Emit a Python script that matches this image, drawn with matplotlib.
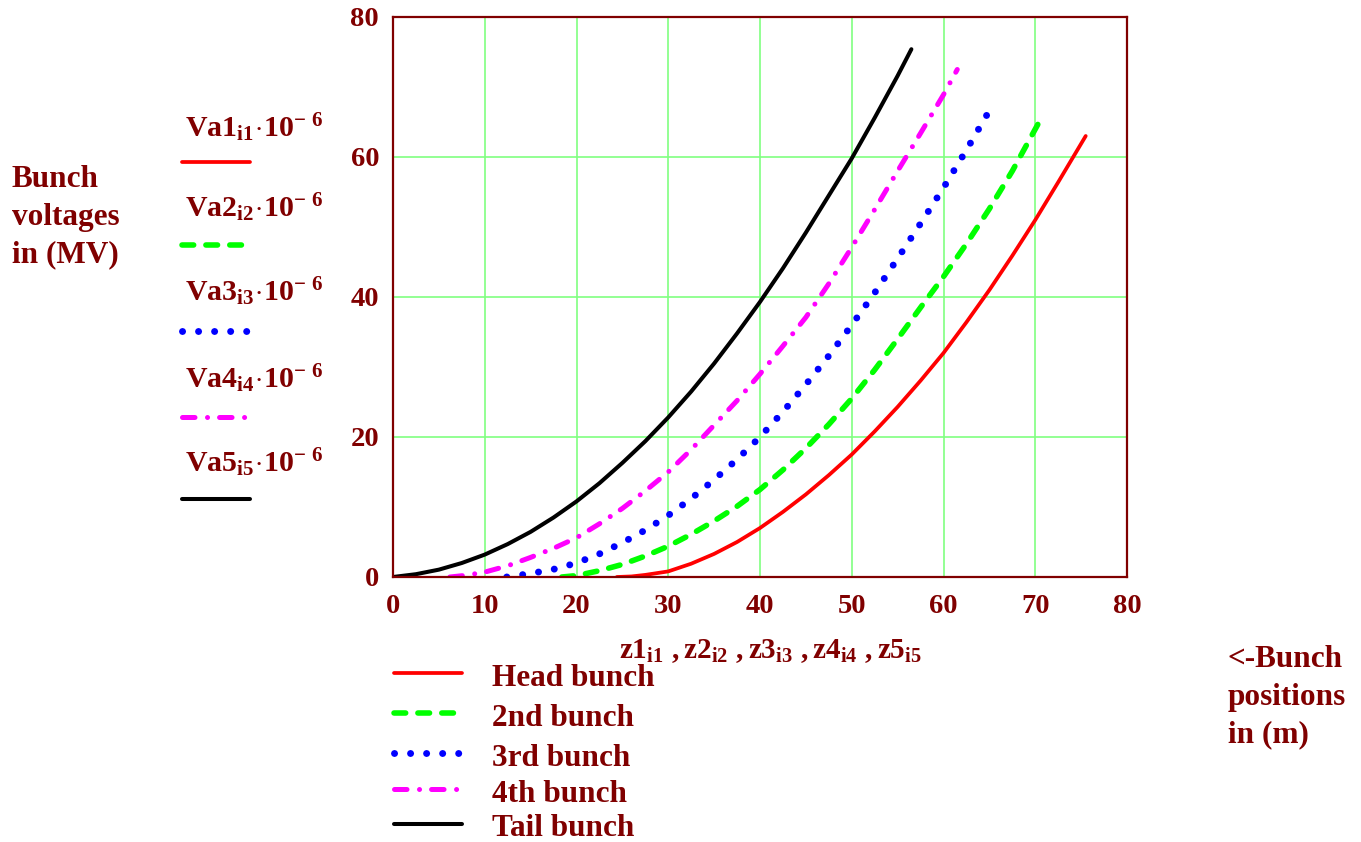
import matplotlib
matplotlib.use("Agg")
import matplotlib.pyplot as plt
from matplotlib.lines import Line2D

# bunch positions (m) and voltages (MV)
z_head = [24.4, 26, 27.5, 30, 32.5, 35, 37.5, 40, 42.5, 45, 47.5, 50, 52.5, 55,
          57.5, 60, 62.5, 65, 67.5, 70, 72.5, 75.5]
v_head = [0, 0.08, 0.3, 0.8, 1.9, 3.3, 5.0, 7.0, 9.3, 11.8, 14.55, 17.5, 20.8, 24.3,
          28.05, 32.0, 36.4, 41.0, 45.9, 51.0, 56.4, 63.0]

z_2nd = [18.4, 20, 22.5, 25, 27.5, 30, 32.5, 35, 37.5, 40, 42.5, 45, 47.5, 50,
         52.5, 55, 57.5, 60, 62.5, 65, 67.5, 70.3]
v_2nd = [0, 0.2, 0.9, 1.8, 3.0, 4.4, 6.1, 8.0, 10.1, 12.5, 15.3, 18.4, 21.8, 25.5,
         29.6, 34.0, 38.5, 42.9, 47.6, 52.6, 58.0, 64.7]

z_3rd = [12.4, 15, 17.5, 20, 22.5, 25, 27.5, 30, 32.5, 35, 37.5, 40, 42.5, 45,
         47.5, 50, 52.5, 55, 57.5, 60, 62.5, 65.3]
v_3rd = [0, 0.5, 1.1, 2.0, 3.3, 4.9, 6.7, 8.8, 11.2, 13.9, 16.8, 20.0, 23.6, 27.5,
         31.6, 36.0, 40.6, 45.5, 50.5, 55.6, 61.0, 67.3]

z_4th = [6.2, 8, 10, 12.5, 15, 17.5, 20, 22.5, 25, 27.5, 30, 32.5, 35, 37.5, 40,
         42.5, 45, 47.5, 50, 52.5, 55, 57.5, 60, 61.5]
v_4th = [0, 0.25, 0.7, 1.6, 2.8, 4.1, 5.6, 7.6, 9.8, 12.3, 15.0, 18.2, 21.7, 25.2, 29.0,
         33.0, 37.1, 41.9, 47.1, 52.5, 58.0, 63.4, 68.9, 72.5]

z_tail = [0, 2.5, 5, 7.5, 10, 12.5, 15, 17.5, 20, 22.5, 25, 27.5, 30, 32.5, 35,
          37.5, 40, 42.5, 45, 47.5, 50, 52.5, 55, 56.5]
v_tail = [0, 0.4, 1.05, 2.0, 3.2, 4.7, 6.45, 8.5, 10.8, 13.4, 16.3, 19.4, 22.8, 26.5,
          30.5, 34.8, 39.3, 44.1, 49.2, 54.5, 59.8, 65.6, 71.6, 75.4]

x_ticks = [0, 10, 20, 30, 40, 50, 60, 70, 80]
y_ticks = [0, 20, 40, 60, 80]
names = ["Head bunch", "2nd bunch", "3rd bunch", "4th bunch", "Tail bunch"]
va_labels = [r"$Va1_{i1}\!\cdot\!10^{-\ 6}$", r"$Va2_{i2}\!\cdot\!10^{-\ 6}$",
             r"$Va3_{i3}\!\cdot\!10^{-\ 6}$", r"$Va4_{i4}\!\cdot\!10^{-\ 6}$",
             r"$Va5_{i5}\!\cdot\!10^{-\ 6}$"]

DARK = "#800000"
plt.rcParams["font.family"] = ["Liberation Serif", "DejaVu Serif"]
plt.rcParams["font.weight"] = "bold"
plt.rcParams["mathtext.fontset"] = "custom"
plt.rcParams["mathtext.rm"] = "Liberation Serif:bold"
plt.rcParams["mathtext.it"] = "Liberation Serif:bold"
plt.rcParams["mathtext.bf"] = "Liberation Serif:bold"

styles = [
    dict(color="#FF0000", lw=2.7, linestyle="-"),
    dict(color="#00FF00", lw=4.0, linestyle=(0, (2.1, 2.2)), dash_capstyle="round"),
    dict(color="#0000FF", lw=5.0, linestyle=(0, (0.01, 2.3)), dash_capstyle="round"),
    dict(color="#FF00FF", lw=3.6, linestyle=(0, (2.5, 2.5, 0.01, 2.4)), dash_capstyle="round"),
    dict(color="#000000", lw=2.9, linestyle="-"),
]

fig = plt.figure(figsize=(13.61, 8.42), dpi=100)

# overlay in pixel coords for the free-standing labels and legend samples
ov = fig.add_axes([0, 0, 1, 1])
ov.set_xlim(0, 1361)
ov.set_ylim(842, 0)
ov.axis("off")

ax = fig.add_axes([393 / 1361, 1 - 577 / 842, 734 / 1361, 560 / 842])
series = [(z_head, v_head), (z_2nd, v_2nd), (z_3rd, v_3rd), (z_4th, v_4th), (z_tail, v_tail)]
for (z, v), st in zip(series, styles):
    ax.plot(z, v, solid_capstyle="round", solid_joinstyle="round", **st)

ax.set_xlim(0, 80)
ax.set_ylim(0, 80)
ax.set_xticks(x_ticks)
ax.set_yticks(y_ticks)
ax.grid(True, color="#80FF80", lw=1.2)
ax.set_axisbelow(True)
for sp in ax.spines.values():
    sp.set_color(DARK)
    sp.set_linewidth(1.6)
ax.tick_params(length=0, labelsize=20.5, labelcolor=DARK)
ax.tick_params(axis="x", pad=12)
ax.tick_params(axis="y", pad=10)

txt = dict(color=DARK, fontsize=22.5, fontweight="bold", va="baseline")

# y axis title on the left
for s, y in zip(["Bunch", "voltages", "in (MV)"], [187, 225, 262]):
    ov.text(12, y, s, ha="left", **txt)

# x axis title at the right
for s, y in zip(["<-Bunch", "positions", "in (m)"], [667, 705, 742]):
    ov.text(1228, y, s, ha="left", **txt)

# x label under the axis
ov.text(770, 658, r"$z1_{i1}\ ,z2_{i2}\ ,z3_{i3}\ ,z4_{i4}\ ,z5_{i5}$",
        ha="center", color=DARK, fontsize=21, va="baseline")

# left legend: expression above its sample line
va_base = [137, 217, 301, 388, 472]
va_line = [162, 245, 331, 417, 499]
for lab, yb, yl, st in zip(va_labels, va_base, va_line, styles):
    ov.text(185, yb, lab, ha="left", color=DARK, fontsize=21.5, va="baseline")
    ov.add_line(Line2D([182, 250], [yl, yl], solid_capstyle="round", **st))

# bottom legend
lg_line = [673, 713, 753, 789, 824]
lg_base = [686, 726, 766, 802, 836]
for name, yl, yb, st in zip(names, lg_line, lg_base, styles):
    ov.add_line(Line2D([394, 462], [yl, yl], solid_capstyle="round", **st))
    ov.text(492, yb, name, ha="left", **txt)

fig.savefig("out.png", dpi=100)
